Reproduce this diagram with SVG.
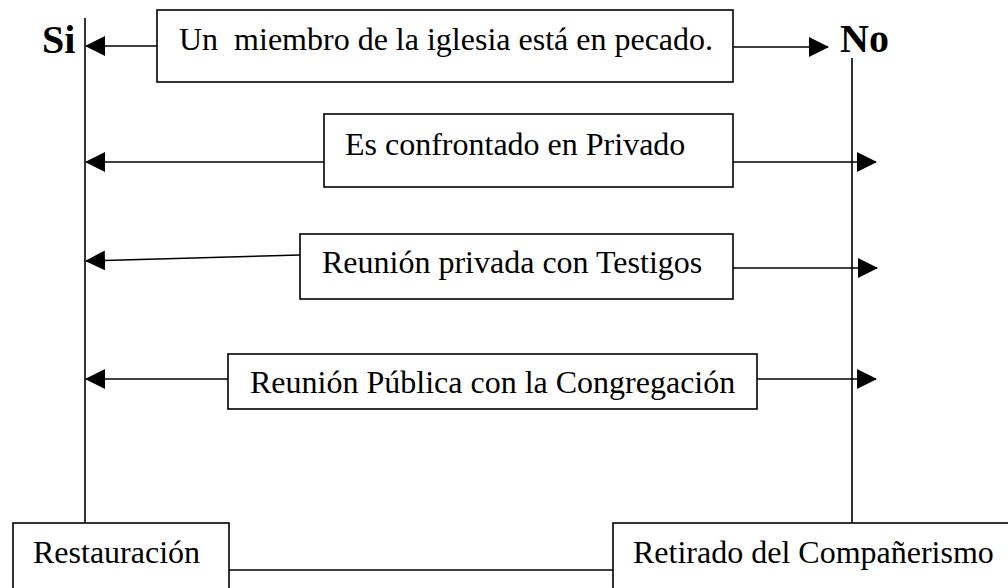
<svg xmlns="http://www.w3.org/2000/svg" width="1008" height="588" viewBox="0 0 1008 588">
  <style>
    .box { fill: #ffffff; stroke: #000000; stroke-width: 1.6; }
    .ln { fill: none; stroke: #000000; stroke-width: 1.6; }
    .arr { fill: none; stroke: #000000; stroke-width: 1.6; marker-end: url(#ah); }
    .t { font-family: "Liberation Serif", "Times New Roman", serif; font-size: 32px; fill: #000000; }
    .lbl { font-family: "Liberation Serif", "Times New Roman", serif; font-size: 40px; font-weight: bold; fill: #000000; }
  </style>
  <defs>
    <marker id="ah" markerUnits="userSpaceOnUse" markerWidth="20" markerHeight="20" refX="19" refY="10" orient="auto">
      <path d="M0,0 L20,10 L0,20 Z" fill="#000000"/>
    </marker>
  </defs>
  <rect width="1008" height="588" fill="#ffffff"/>

  <g id="connectors">
    <line class="ln" x1="85" y1="18" x2="85" y2="523"/>
    <line class="ln" x1="852" y1="58" x2="852" y2="523"/>
    <line class="arr" x1="157" y1="46" x2="86" y2="46"/>
    <line class="arr" x1="733" y1="47" x2="828" y2="47"/>
    <line class="arr" x1="324" y1="162" x2="86" y2="162"/>
    <line class="arr" x1="733" y1="162" x2="876" y2="162"/>
    <line class="arr" x1="300" y1="255" x2="86" y2="261"/>
    <line class="arr" x1="733" y1="268" x2="877" y2="268"/>
    <line class="arr" x1="228" y1="379" x2="86" y2="379"/>
    <line class="arr" x1="757" y1="379" x2="876" y2="379"/>
    <line class="ln" x1="229" y1="570" x2="613" y2="570"/>
  </g>

  <g id="label-si"><text class="lbl" x="42" y="53">Si</text></g>
  <g id="label-no"><text class="lbl" x="840" y="52">No</text></g>

  <g id="node-start">
    <rect class="box" x="157" y="10" width="576" height="72"/>
    <text class="t" x="179" y="50" xml:space="preserve">Un  miembro de la iglesia está en pecado.</text>
  </g>
  <g id="node-privado">
    <rect class="box" x="324" y="114" width="409" height="73"/>
    <text class="t" x="345" y="155">Es confrontado en Privado</text>
  </g>
  <g id="node-testigos">
    <rect class="box" x="300" y="234" width="433" height="65"/>
    <text class="t" x="322" y="273">Reunión privada con Testigos</text>
  </g>
  <g id="node-congregacion">
    <rect class="box" x="228" y="354" width="529" height="55"/>
    <text class="t" x="250" y="393">Reunión Pública con la Congregación</text>
  </g>
  <g id="node-restauracion">
    <rect class="box" x="13" y="523" width="216" height="70"/>
    <text class="t" x="33" y="563">Restauración</text>
  </g>
  <g id="node-retirado">
    <rect class="box" x="613" y="523" width="400" height="70"/>
    <text class="t" x="633" y="563">Retirado del Compañerismo</text>
  </g>
</svg>
